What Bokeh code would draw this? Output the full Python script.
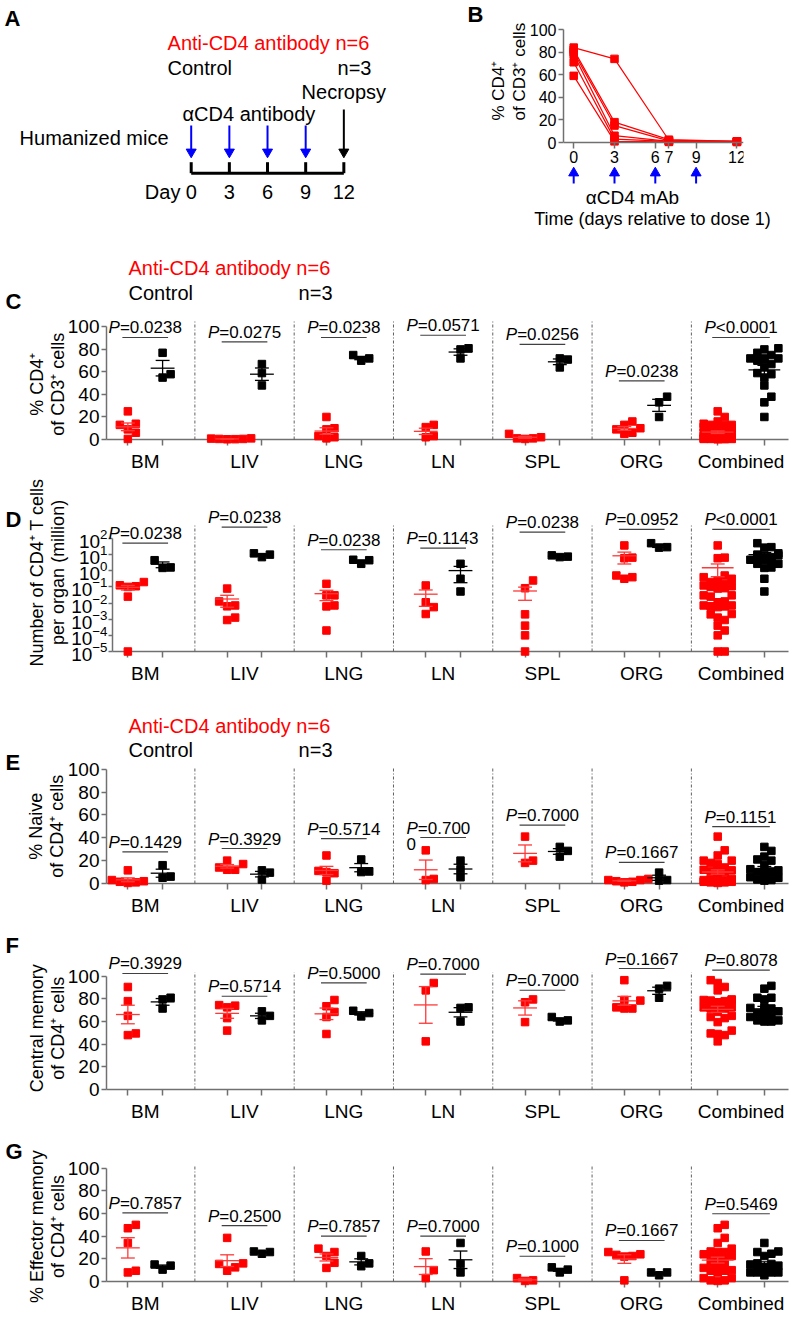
import math
import numpy as np
from bokeh.plotting import figure
from bokeh.layouts import column, row
from bokeh.models import Range1d, FixedTicker, ColumnDataSource
from bokeh.core.properties import value
from bokeh.embed import file_html
from bokeh.resources import INLINE

FONT = "Liberation Sans"
RED = "#ff0000"
ERR_RED = "#ff3838"
BLUE = "#0000ff"
AXC = "#707070"

# ---------------- data ----------------
tissues = ["BM", "LIV", "LNG", "LN", "SPL", "ORG", "Combined"]

a_dose_days = [0, 3, 6, 9]
a_necropsy_day = [12]
a_days = [0, 3, 6, 9, 12]

b_days = [0, 3, 7, 12]
b_tick_days = [0, 3, 6, 7, 9, 12]
b_dose_days = [0, 3, 6, 9]
b_mouse1 = [84, 74, 2.0, 1.0]
b_mouse2 = [82, 18, 2.5, 1.0]
b_mouse3 = [80, 15, 1.5, 1.0]
b_mouse4 = [78, 6, 1.0, 0.8]
b_mouse5 = [71, 3, 1.0, 0.5]
b_mouse6 = [59, 1, 0.5, 0.5]

# C: % CD4+ of CD3+
c_anti = [[25, 14, 13, 9, 6, 0.5], [1, 0.8, 0.5, 0.5, 0.3, 0.2], [20, 10, 9, 3, 2, 1],
          [13, 11, 3, 2], [5, 2, 1, 1, 0.5], [16, 13, 10, 9, 6, 5]]
c_ctrl = [[77, 58, 55], [67, 59, 48], [70, 75, 72], [80, 81, 72], [72, 71, 64], [33, 38, 20]]
c_p = ["=0.0238", "=0.0275", "=0.0238", "=0.0571", "=0.0256", "=0.0238", "<0.0001"]
c_bracket = [90.6, 86.7, 90.6, 92.6, 84.4, 52, 90.6]

# D: number of CD4+ T cells per organ (million)
d_anti = [[0.2, 0.126, 0.11, 0.1, 0.025, 1e-5], [0.079, 0.0071, 0.0126, 0.0063, 0.00089, 0.00126],
          [0.155, 0.03, 0.0062, 0.0071, 0.0002, 0.03], [0.123, 0.0112, 0.0056, 0.0021],
          [0.25, 0.083, 0.002, 0.0004, 0.0001, 1e-5], [37, 6, 6.5, 0.4, 0.51, 0.32]]
d_ctrl = [[4.5, 1.5, 1.6], [7, 12, 10], [2.7, 4.8, 4.5], [2.7, 0.32, 0.052], [7, 9, 7.5], [27, 51, 29]]
d_p = ["=0.0238", "=0.0238", "=0.0238", "=0.1143", "=0.0238", "=0.0952", "<0.0001"]
d_bracket = [51, 500, 20, 25, 245, 363, 363]

# E: % naive
e_anti = [[11.5, 3, 2, 1.5, 1, 0.5], [20, 17, 14, 12, 12], [24.5, 11, 10, 9, 2.5],
          [29, 3, 4], [41, 18, 20], [4, 3, 3, 2, 1.5, 1]]
e_ctrl = [[16, 5, 6], [9.5, 11.5, 3.5], [21, 10, 10.5], [20, 12.5, 5.5], [32, 28.5, 23.5], [9.5, 3, 2.5]]
e_p = ["=0.1429", "=0.3929", "=0.5714", "=0.700\n0", "=0.7000", "=0.1667", "=0.1151"]
e_bracket = [27.7, 30.6, 39.3, 40.2, 51, 18.4, 49.8]

# F: % central memory
f_anti = [[90.5, 78, 65, 48, 49.5], [74, 72.5, 74.5, 63, 52], [79, 73.5, 68.5, 64, 49],
          [94, 87.5, 42.5], [77, 79.5, 59.5], [96.5, 79, 78.5, 71.5, 71.5, 72.5]]
f_ctrl = [[79.5, 81, 71.5], [69, 61, 65], [64.5, 69.5, 67.5], [72, 72.5, 60], [60, 64, 61], [91.5, 89, 81]]
f_p = ["=0.3929", "=0.5714", "=0.5000", "=0.7000", "=0.7000", "=0.1667", "=0.8078"]
f_bracket = [102.4, 82.3, 94.1, 101.8, 87.6, 106.8, 105.3]

# G: % effector memory
g_anti = [[50, 47, 34, 8, 9.5], [38.5, 16, 15.5, 12.5, 9.5], [29, 22.5, 26, 12, 16.5],
          [26.5, 10, 3], [0.5, 3, 1], [26, 24, 22.5, 22, 23.5, 1]]
g_ctrl = [[10.5, 15, 14], [24.5, 26.5, 26], [16, 22.5, 13.5], [34, 15.5, 8], [8, 12.5, 10.5], [5.5, 8, 8]]
g_p = ["=0.7857", "=0.2500", "=0.7857", "=0.7000", "=0.1000", "=0.1667", "=0.5469"]
g_bracket = [60.6, 49.4, 40, 40, 22.3, 36.2, 59.8]


# ---------------- helpers ----------------
def make_fig(W, H, top, bot, left, right, xr, yr, ytype="linear", axes=True):
    kw = dict(width=W, height=H, x_range=xr, y_range=yr, y_axis_type=ytype,
              toolbar_location=None, output_backend="svg",
              min_border_top=top, min_border_bottom=bot,
              min_border_left=left, min_border_right=right,
              outline_line_color=None, background_fill_color="white",
              border_fill_color="white")
    if not axes:
        kw["x_axis_location"] = None
        kw["y_axis_location"] = None
    p = figure(**kw)
    p.xgrid.visible = False
    p.ygrid.visible = False
    return p


def style_axes(p, size):
    for ax in p.axis:
        ax.axis_line_color = AXC
        ax.axis_line_width = 1.5
        ax.major_tick_line_color = AXC
        ax.major_tick_line_width = 1.5
        ax.major_tick_in = 0
        ax.minor_tick_line_color = None
        ax.major_label_text_font = FONT
        ax.major_label_text_font_size = f"{size}px"
        ax.major_label_text_color = "black"


def txt(p, x, y, t, size, color="black", align="left", baseline="middle", style="normal",
        xoff=None, angle=0.0, lh=1.2):
    src = ColumnDataSource(dict(x=list(x), y=list(y), t=list(t),
                                xo=list(xoff) if xoff is not None else [0] * len(x)))
    r = p.text(x="x", y="y", text="t", x_offset="xo", source=src, text_font=value(FONT),
               text_font_size=f"{size}px", text_color=color, text_align=align,
               text_baseline=baseline, text_font_style=style, angle=angle,
               text_line_height=lh)
    r.level = "overlay"
    return r


def arrows(p, xs, y_tail, y_head_center, color, marker):
    n = len(xs)
    s = p.segment(x0=xs, y0=[y_tail] * n, x1=xs, y1=[y_head_center] * n,
                  line_color=color, line_width=2)
    s.level = "overlay"
    m = p.scatter(xs, [y_head_center] * n, marker=marker, size=10,
                  fill_color=color, line_color=color, line_width=1)
    m.level = "overlay"


ARIAL = {'.': .278, '=': .584, '<': .584, 'P': .667}


def tw(s, size):
    return sum(ARIAL.get(ch, .556) for ch in s) * size


def swarm(vals, ypx, d, h, maxk):
    n = len(vals)
    order = sorted(range(n), key=lambda i: vals[i])
    cands = [0.0]
    for k in range(1, maxk + 1):
        cands += [k * d, -k * d]
    placed, offs = [], [0.0] * n
    for i in order:
        y = ypx(vals[i])
        chosen = None
        for o in cands:
            if all(abs(o - po) >= d - 1e-6 or abs(y - py) >= h for po, py in placed):
                chosen = o
                break
        if chosen is None:
            chosen = min(cands, key=lambda o: sum(1 for po, py in placed
                                                  if abs(o - po) < d and abs(y - py) < h))
        placed.append((chosen, y))
        offs[i] = chosen
    return offs


PPX = 99.3      # pixels per category unit
W_FULL = 796
RIGHT = 8


def dot_panel(anti, ctrl, pstr, plev, cfg):
    H, top, bot, left = cfg["H"], cfg["top"], cfg["bot"], cfg.get("left", 106)
    fh, fw = H - top - bot, W_FULL - left - RIGHT
    xs = -0.39 + (left - 106) / PPX
    xe = xs + fw / PPX
    log = cfg.get("log", False)
    if log:
        ylo, yhi = 10.0 ** cfg["dmin"], 10.0 ** cfg["dmax"]
        ppy = fh / (cfg["dmax"] - cfg["dmin"])
        ypx = lambda v: math.log10(v) * ppy
        p = make_fig(W_FULL, H, top, bot, left, RIGHT, Range1d(xs, xe), Range1d(ylo, yhi), "log")
        ybase = ylo
    else:
        ppy = fh / cfg["yend"]
        ypx = lambda v: v * ppy
        p = make_fig(W_FULL, H, top, bot, left, RIGHT, Range1d(xs, xe), Range1d(0, cfg["yend"]))
        ybase = 0
        ylo = 0
    ga = anti + [[v for g in anti for v in g]]
    gc = ctrl + [[v for g in ctrl for v in g]]
    ncat = len(tissues)
    centers = list(range(ncat))

    sx = [c + 0.5 for c in centers[:-1]]
    sep = p.segment(x0=sx, y0=[ybase] * len(sx), x1=sx, y1=[cfg["sep_top"]] * len(sx),
                    line_color="#606060", line_width=1, line_dash="3 2 1 2")
    sep.level = "overlay"

    bw = [0.29 if c == ncat - 1 else 0.23 for c in centers]
    br = p.segment(x0=[c - w for c, w in zip(centers, bw)], y0=plev,
                   x1=[c + w for c, w in zip(centers, bw)], y1=plev,
                   line_color="#404040", line_width=1.2)
    br.level = "overlay"

    tick_pos = []
    for color, groups, sign in ((RED, ga, -1), ("black", gc, 1)):
        X, Y = [], []
        ex0, ey0, ex1, ey1 = [], [], [], []
        for c, vals in zip(centers, groups):
            comb = c == ncat - 1
            gx = c + sign * (0.235 if comb else 0.175)
            tick_pos.append(gx)
            offs = swarm(vals, ypx, 7.0 if comb else 8.0, 7.0 if comb else 8.0, 2 if comb else 3)
            X += [gx + o / PPX for o in offs]
            Y += vals
            m = float(np.mean(vals))
            s = float(np.std(vals, ddof=1) / math.sqrt(len(vals)))
            lo, hi = m - s, m + s
            if log and lo <= 0:
                lo = ylo
            hw = 0.16 if comb else 0.12
            cw = 0.07
            ex0 += [gx - hw, gx, gx - cw, gx - cw]
            ex1 += [gx + hw, gx, gx + cw, gx + cw]
            ey0 += [m, lo, lo, hi]
            ey1 += [m, hi, lo, hi]
        r = p.scatter(X, Y, marker="square", size=7.5, fill_color=color, line_color=color, line_width=1)
        r.level = "overlay"
        e = p.segment(x0=ex0, y0=ey0, x1=ex1, y1=ey1,
                      line_color=ERR_RED if color == RED else "black", line_width=1.3)
        e.level = "overlay"

    Px, Py, Pxo, Rt = [], [], [], []
    Cx, Cy, Ct, Cxo = [], [], [], []
    for c, s, lv in zip(centers, pstr, plev):
        lines = s.split("\n")
        full = "".join(lines)
        wP = tw("P", 17)
        wR = tw(full, 17)
        join = (wP - wR) / 2
        Px.append(c); Py.append(lv); Pxo.append(join); Rt.append(lines[0])
        if len(lines) > 1:
            Cx.append(c); Cy.append(lv); Ct.append(lines[1]); Cxo.append(join - wP)
    txt(p, Px, Py, ["P"] * len(Px), 17, align="right", baseline="bottom", style="italic", xoff=Pxo)
    txt(p, Px, Py, Rt, 17, align="left", baseline="bottom", xoff=Pxo)
    if Cx:
        txt(p, Cx, Cy, Ct, 17, align="left", baseline="top", xoff=Cxo)

    style_axes(p, 19)
    xa = p.xaxis[0]
    xa.ticker = FixedTicker(ticks=centers, minor_ticks=sorted(tick_pos))
    xa.major_label_overrides = {c: t for c, t in zip(centers, tissues)}
    xa.major_tick_line_color = None
    xa.major_tick_out = 6
    xa.minor_tick_line_color = AXC
    xa.minor_tick_line_width = 1.5
    xa.minor_tick_out = 6
    xa.minor_tick_in = 0
    xa.major_label_standoff = 5
    ya = p.yaxis[0]
    if log:
        ya.ticker = FixedTicker(ticks=[10.0 ** k for k in range(-5, 3)])
        ya.bounds = (1e-5, 100)
        ya.major_tick_out = 4
        ya.major_label_standoff = 1
    else:
        ya.ticker = FixedTicker(ticks=[0, 20, 40, 60, 80, 100])
        ya.bounds = (0, 100)
        ya.major_tick_out = 5
        ya.major_label_standoff = 2

    txt(p, [xs], [cfg["letter_y"]], [cfg["letter"]], 22, style="bold", xoff=[5 - left])
    txt(p, [xs], [cfg["title_y"]], [cfg["title"]], 18, align="center", angle=math.pi / 2,
        xoff=[cfg["title_cx"] - left], lh=1.05)
    if cfg.get("legend"):
        ly1, ly2 = cfg["legend"]
        txt(p, [xs], [ly1], ["Anti-CD4 antibody n=6"], 20, color=RED, xoff=[128 - left])
        txt(p, [xs], [ly2], ["Control"], 20, xoff=[128 - left])
        txt(p, [xs], [ly2], ["n=3"], 20, align="right", xoff=[332 - left])
    return p


# ---------------- panel B (defines the row frame) ----------------
ROW_H = 230
B_TOP, B_BOT = 29, 42
B_LEFT, B_RIGHT = 155, 53
b_ppy = 1.13
b_zero_px = 142.0
b_y = lambda page_y: (b_zero_px - page_y) / b_ppy
bx0, bpx = -0.75, 13.6
pb = make_fig(388, ROW_H, B_TOP, B_BOT, B_LEFT, B_RIGHT,
              Range1d(bx0, bx0 + (388 - B_LEFT - B_RIGHT) / bpx),
              Range1d(b_y(ROW_H - B_BOT), 100))
for m in (b_mouse1, b_mouse2, b_mouse3, b_mouse4, b_mouse5, b_mouse6):
    pb.line(b_days, m, line_color=RED, line_width=1.2)
    pb.scatter(b_days, m, marker="square", size=7.5, fill_color=RED, line_color=RED, line_width=1)
style_axes(pb, 16)
pb.xaxis[0].ticker = FixedTicker(ticks=b_tick_days)
pb.xaxis[0].fixed_location = 0
pb.xaxis[0].major_tick_out = 6
pb.xaxis[0].major_label_standoff = 2
pb.yaxis[0].ticker = FixedTicker(ticks=[0, 20, 40, 60, 80, 100])
pb.yaxis[0].bounds = (0, 100)
pb.yaxis[0].major_tick_out = 5
pb.yaxis[0].major_label_standoff = 2
arrows(pb, b_dose_days, b_y(183), b_y(172.5), BLUE, "triangle")
b_frame_left = 408 + B_LEFT
txt(pb, [bx0], [b_y(13.5)], ["B"], 22, style="bold", xoff=[467 - b_frame_left])
txt(pb, [bx0], [b_y(120)], ["% CD4\u207a\nof CD3\u207a cells"], 17, align="left",
    angle=math.pi / 2, xoff=[508.5 - b_frame_left], lh=1.1)
txt(pb, [4.32], [b_y(197)], ["\u03b1CD4 mAb"], 19, align="center")
txt(pb, [5.79], [b_y(218)], ["Time (days relative to dose 1)"], 18, align="center")

# ---------------- panel A (frame shares B's top/bottom: page y 29..188) ----------------
a_px_day, a_day0_px = 12.72, 190.7
ax0 = (0 - a_day0_px) / a_px_day
ax1 = (408 - a_day0_px) / a_px_day
pa = make_fig(408, ROW_H, B_TOP, B_BOT, 0, 0, Range1d(ax0, ax1),
              Range1d(ROW_H - B_BOT, B_TOP), axes=False)   # y data == page pixel row
y_line, y_tick = 172.7, 161.7
tl = pa.segment(x0=[min(a_days)], y0=[y_line], x1=[max(a_days)], y1=[y_line],
                line_color="black", line_width=3)
tl.level = "overlay"
tk = pa.segment(x0=a_days, y0=[y_tick] * len(a_days), x1=a_days, y1=[y_line] * len(a_days),
                line_color="black", line_width=3)
tk.level = "overlay"
arrows(pa, a_dose_days, 125, 151.5, BLUE, "inverted_triangle")
arrows(pa, a_necropsy_day, 109, 151.5, "black", "inverted_triangle")
txt(pa, [(4 - a_day0_px) / a_px_day], [17.5], ["A"], 22, style="bold")
txt(pa, [-1.86], [42], ["Anti-CD4 antibody n=6"], 20, color=RED)
txt(pa, [-1.86], [67], ["Control"], 20)
txt(pa, [14.17], [67], ["n=3"], 20, align="right")
txt(pa, a_necropsy_day, [91], ["Necropsy"], 20, align="center")
txt(pa, [-0.68], [113], ["\u03b1CD4 antibody"], 20)
txt(pa, [-1.78], [137], ["Humanized mice"], 20, align="right")
txt(pa, a_days, [191.7] * len(a_days), [str(d) for d in a_days], 20, align="center")
txt(pa, [-0.85], [191.7], ["Day"], 20, align="right")

# ---------------- panels C-G ----------------
pC = dot_panel(c_anti, c_ctrl, c_p, c_bracket, dict(
    H=246, top=83, bot=37, yend=111.9, sep_top=106,
    letter="C", letter_y=123, title="% CD4\u207a\nof CD3\u207a cells", title_y=49, title_cx=46.5,
    legend=(151.9, 130.5)))
pD = dot_panel(d_anti, d_ctrl, d_p, d_bracket, dict(
    H=212, top=30, bot=37, left=112, log=True, dmin=-5, dmax=3.98,
    sep_top=10 ** 2.8, letter="D", letter_y=10 ** 3.18,
    title="Number of CD4\u207a T cells\nper organ (million)", title_y=10 ** -0.1, title_cx=47))
pE = dot_panel(e_anti, e_ctrl, e_p, e_bracket, dict(
    H=232, top=78, bot=37, yend=102.3, sep_top=102.3,
    letter="E", letter_y=105.8, title="% Naive\nof CD4\u207a cells", title_y=50, title_cx=46,
    legend=(138.1, 116.3)))
pF = dot_panel(f_anti, f_ctrl, f_p, f_bracket, dict(
    H=206, top=30, bot=37, yend=122.7, sep_top=103.5,
    letter="F", letter_y=127.1, title="Central memory\nof CD4\u207a cells", title_y=54, title_cx=47))
pG = dot_panel(g_anti, g_ctrl, g_p, g_bracket, dict(
    H=194, top=40, bot=39, yend=101.5, sep_top=101.5,
    letter="G", letter_y=114.9, title="% Effector memory\nof CD4\u207a cells", title_y=48.5, title_cx=47))

layout = column(row(pa, pb), pC, row(pD), pE, pF, pG)
open("out.html", "w").write(file_html(layout, INLINE))
